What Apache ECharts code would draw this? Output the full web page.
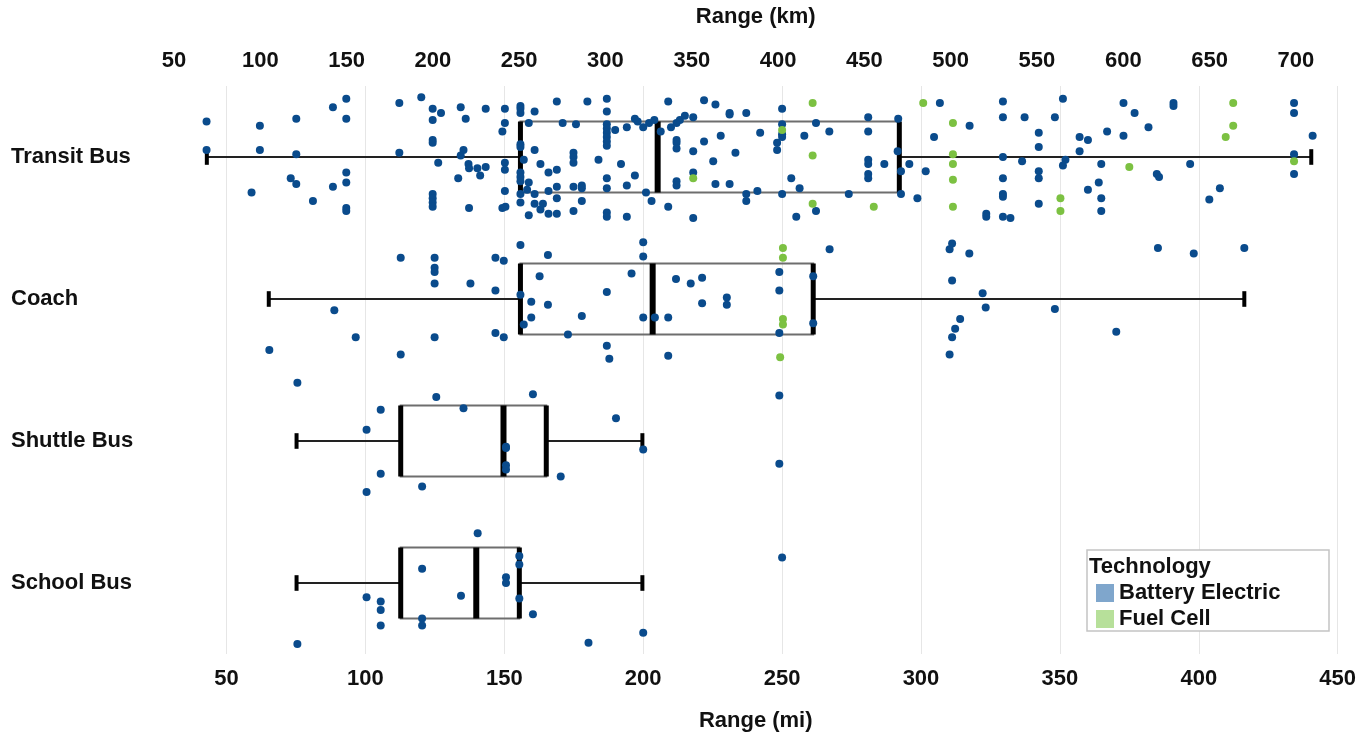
<!DOCTYPE html>
<html>
<head>
<meta charset="utf-8">
<script src="https://cdn.jsdelivr.net/npm/echarts@6/dist/echarts.min.js"></script>
<style>
html, body { margin: 0; padding: 0; background: #fff; }
#main { width: 1359px; height: 740px; }
</style>
</head>
<body>
<div id="main"></div>
<script>
// categories, top to bottom
var categories = ['Transit Bus', 'Coach', 'Shuttle Bus', 'School Bus'];
var miTicks = [50, 100, 150, 200, 250, 300, 350, 400, 450];
var kmTicks = [50, 100, 150, 200, 250, 300, 350, 400, 450, 500, 550, 600, 650, 700];
var KM_PER_MI = 1.609344;
var axisMin = 30, axisMax = 451;

// box stats (mi)
var boxMin = [42.9, 65.2, 75.2, 75.2];
var boxQ1  = [155.8, 155.8, 112.7, 112.7];
var boxMed = [205.2, 203.4, 149.7, 139.9];
var boxQ3  = [292.2, 261.2, 165.1, 155.4];
var boxMax = [440.5, 416.4, 199.7, 199.7];

// points: [range mi, jitter within the row]
var transitBev = [
  [42.8,-0.25],[42.8,-0.05],[62,-0.22],[62,-0.05],[59,0.25],[75.1,-0.27],[75.1,-0.02],[73.1,0.15],[75.1,0.19],[81.1,0.31],
  [88.3,-0.35],[93.1,-0.41],[93.1,-0.27],[93.1,0.11],[93.1,0.18],[88.3,0.21],[93.1,0.36],[93.1,0.38],[112.2,-0.38],[112.2,-0.03],
  [120.1,-0.42],[124.2,-0.34],[127.2,-0.31],[124.2,-0.26],[124.2,-0.12],[124.2,-0.10],[126.2,0.04],[124.2,0.26],[124.2,0.29],[124.2,0.32],
  [124.2,0.35],[134.3,-0.35],[136.1,-0.27],[135.3,-0.05],[134.3,-0.01],[137.1,0.05],[137.3,0.08],[140.3,0.08],[143.3,0.07],[141.3,0.13],
  [133.4,0.15],[137.3,0.36],[143.3,-0.34],[150.2,-0.34],[150.2,-0.24],[149.3,-0.18],[150.2,0.04],[150.2,0.09],[150.2,0.24],[149.3,0.36],
  [150.4,0.35],
  [155.8,-0.36],[155.8,-0.34],[155.8,-0.31],[155.8,-0.09],[155.8,-0.07],[155.8,0.11],[155.8,0.14],[155.8,0.17],[155.8,0.26],[155.8,0.32],
  [157.0,0.02],[158.8,-0.24],[160.9,-0.32],[160.9,-0.05],[158.8,0.18],[158.2,0.23],[160.9,0.26],[160.9,0.33],[158.8,0.41],[163.0,0.05],
  [163.0,0.37],[163.9,0.33],[165.9,0.11],[165.9,0.24],[165.9,0.40],[168.9,-0.39],[168.9,0.09],[168.9,0.21],[168.9,0.29],[168.9,0.40],
  [171.0,-0.24],[174.9,-0.03],[174.9,0.0],[174.9,0.04],[174.9,0.21],[174.9,0.38],[175.8,-0.23],[177.9,0.20],[177.9,0.22],[177.9,0.31],
  [179.9,-0.39],[183.9,0.02],[186.9,-0.41],[186.9,-0.32],[186.9,-0.23],[186.9,-0.20],[186.9,-0.17],[186.9,-0.14],[186.9,-0.11],[186.9,-0.08],
  [186.9,0.15],[186.9,0.22],[186.9,0.39],[186.9,0.42],[189.9,-0.19],[192.0,0.05],[194.1,-0.21],[194.1,0.20],[194.1,0.42],[197.0,-0.27],
  [198.0,-0.25],[197.0,0.13],[200.0,-0.21],[201.0,0.25],[202.1,-0.24],[203.0,0.31],[204.0,-0.26],[206.3,-0.18],[209.0,-0.39],[209.0,0.35],
  [210.0,-0.21],[212.0,-0.24],[213.2,-0.26],[212.0,-0.12],[212.0,-0.10],[212.0,-0.06],[212.0,0.17],[212.0,0.20],[215.0,-0.29],[218.0,-0.28],
  [218.0,-0.04],[218.0,0.11],[218.0,0.43],[221.9,-0.40],[221.9,-0.11],[225.2,0.03],[226.0,-0.37],[226.0,0.19],[227.9,-0.15],[231.1,-0.31],
  [231.1,-0.30],[231.1,0.19],[233.2,-0.03],[237.1,-0.31],[237.1,0.26],[237.1,0.31],[241.1,0.24],[242.1,-0.17],[248.2,-0.10],[248.2,-0.05],
  [250.0,-0.34],[250.0,-0.23],[250.0,-0.16],[250.0,-0.14],[250.0,0.26],[253.3,0.15],[255.1,0.42],[256.3,0.22],[258.0,-0.15],[262.2,-0.24],
  [262.2,0.38],
  [267.0,-0.18],[274.0,0.26],[281.0,-0.28],[281.0,-0.18],[281.0,0.02],[281.0,0.05],[281.0,0.12],[281.0,0.15],[286.8,0.05],[291.8,-0.27],
  [291.6,-0.04],[292.8,0.10],[292.8,0.26],[295.8,0.05],[298.7,0.29],[301.7,0.10],[304.7,-0.14],[306.8,-0.38],[317.5,-0.22],[323.5,0.40],
  [323.5,0.42],[329.5,-0.39],[329.5,-0.28],[329.5,0.00],[329.5,0.15],[329.5,0.26],[329.5,0.28],[329.5,0.42],[332.2,0.43],[336.4,0.03],
  [337.3,-0.28],[342.4,-0.17],[342.4,-0.07],[342.4,0.10],[342.4,0.15],[342.4,0.33],[348.2,-0.28],[351.1,-0.41],[352.0,0.02],[351.1,0.06],
  [357.1,-0.14],[357.1,-0.04],[360.1,-0.12],[360.1,0.23],[364.0,0.18],[364.9,0.05],[364.9,0.29],[364.9,0.38],[367.0,-0.18],[372.9,-0.38],
  [372.9,-0.15],[376.9,-0.31],[381.9,-0.21],[384.9,0.12],[385.7,0.14],[390.9,-0.38],[390.9,-0.36],[396.9,0.05],[403.8,0.30],[407.6,0.22],
  [434.3,-0.38],[434.3,-0.31],[434.3,-0.02],[434.3,0.12],[441.0,-0.15]
];
var transitFc = [
  [218.0,0.15],[250.0,-0.19],[261.0,-0.38],[261.0,-0.01],[261.0,0.33],[283.0,0.35],[300.8,-0.38],[311.5,-0.24],[311.5,-0.02],[311.5,0.05],
  [311.5,0.16],[311.5,0.35],[350.2,0.29],[350.2,0.38],[375.0,0.07],[409.7,-0.14],[412.4,-0.38],[412.4,-0.22],[434.3,0.03]
];
var coachBev = [
  [65.4,0.36],[88.8,0.08],[96.5,0.27],[112.7,-0.29],[112.7,0.39],[124.9,-0.29],[124.9,-0.22],[124.9,-0.19],[124.9,-0.11],[124.9,0.27],
  [137.8,-0.11],[146.8,-0.29],[149.8,-0.27],[146.8,-0.06],[146.8,0.24],[149.8,0.27],[155.8,-0.38],[155.8,-0.03],[157.0,0.18],[159.7,0.02],
  [159.7,0.13],[162.7,-0.16],[165.7,-0.31],[165.7,0.04],[172.9,0.25],[177.9,0.12],[186.9,-0.05],[186.9,0.33],[187.8,0.42],[195.8,-0.18],
  [200.0,-0.40],[200.0,-0.30],[200.0,0.13],[204.2,0.13],[209.0,0.13],[209.0,0.40],[211.8,-0.14],[217.1,-0.11],[221.2,-0.15],[221.2,0.03],
  [230.1,-0.01],[230.1,0.04],[249.0,-0.19],[249.0,-0.06],[249.0,0.24],[261.2,-0.16],[261.2,0.17],[267.1,-0.35],[310.3,-0.35],[311.2,-0.39],
  [317.4,-0.32],[311.2,-0.13],[322.2,-0.04],[323.3,0.06],[314.1,0.14],[312.3,0.21],[311.2,0.27],[310.3,0.39],[348.2,0.07],[370.3,0.23],
  [385.3,-0.36],[398.2,-0.32],[416.4,-0.36]
];
var coachFc = [[250.3,-0.36],[250.3,-0.29],[250.3,0.14],[250.3,0.18],[249.3,0.41]];
var shuttleBev = [
  [75.5,-0.41],[105.5,-0.22],[100.4,-0.08],[105.5,0.23],[100.4,0.36],[120.4,0.32],[125.5,-0.31],[135.3,-0.23],[160.3,-0.33],[150.6,0.04],
  [150.6,0.05],[150.6,0.17],[150.6,0.20],[170.3,0.25],[190.2,-0.16],[200.0,0.06],[249.0,-0.32],[249.0,0.16]
];
var schoolBev = [
  [140.4,-0.35],[120.4,-0.10],[100.4,0.10],[105.5,0.13],[105.5,0.19],[105.5,0.30],[120.4,0.25],[120.4,0.30],[134.4,0.09],[150.6,-0.04],
  [150.6,0.00],[155.4,-0.19],[155.4,-0.13],[155.4,0.11],[160.3,0.22],[180.3,0.42],[200.0,0.35],[75.5,0.43],[250.0,-0.18]
];

var FONT = "'Liberation Sans', Arial, sans-serif";
var BLUE = '#0a4b8c';
var GREEN = '#7cc142';

function placeRow(list, row) {
  return list.map(function (p) { return [p[0], row + p[1]]; });
}

var bevData = [].concat(placeRow(transitBev, 0), placeRow(coachBev, 1), placeRow(shuttleBev, 2), placeRow(schoolBev, 3));
var fcData = [].concat(placeRow(transitFc, 0), placeRow(coachFc, 1));

var boxData = categories.map(function (c, i) {
  return [i, boxMin[i], boxQ1[i], boxMed[i], boxQ3[i], boxMax[i]];
});

// draws one box with whiskers
function renderBox(params, api) {
  var c = api.value(0);
  var lo = api.value(1), q1 = api.value(2), med = api.value(3), q3 = api.value(4), hi = api.value(5);
  var half = 0.25, cap = 0.055;
  var p = function (x, y) { return api.coord([x, y]); };
  var a = p(q1, c - half), b = p(q3, c + half);
  var yTop = Math.min(a[1], b[1]), yBot = Math.max(a[1], b[1]);
  var mid = p(lo, c)[1];
  var capA = p(lo, c - cap), capB = p(lo, c + cap);
  var capTop = Math.min(capA[1], capB[1]), capBot = Math.max(capA[1], capB[1]);
  function vline(x, y1, y2, w, color) {
    return { type: 'line', shape: { x1: x, y1: y1, x2: x, y2: y2 }, style: { stroke: color, lineWidth: w } };
  }
  return {
    type: 'group',
    children: [
      { type: 'line', shape: { x1: p(lo, c)[0], y1: mid, x2: p(q1, c)[0], y2: mid }, style: { stroke: '#222', lineWidth: 2 } },
      { type: 'line', shape: { x1: p(q3, c)[0], y1: mid, x2: p(hi, c)[0], y2: mid }, style: { stroke: '#222', lineWidth: 2 } },
      { type: 'rect', shape: { x: a[0], y: yTop, width: b[0] - a[0], height: yBot - yTop }, style: { fill: 'none', stroke: '#6e6e6e', lineWidth: 2 } },
      vline(p(lo, c)[0], capTop, capBot, 4, '#000'),
      vline(p(hi, c)[0], capTop, capBot, 4, '#000'),
      vline(p(q1, c)[0], yTop, yBot, 5, '#000'),
      vline(p(med, c)[0], yTop, yBot, 6, '#000'),
      vline(p(q3, c)[0], yTop, yBot, 5, '#000')
    ]
  };
}

var chart = echarts.init(document.getElementById('main'));
var option = {
  backgroundColor: '#fff',
  animation: false,
  textStyle: { fontFamily: FONT },
  grid: { left: 171, right: 12, top: 86, bottom: 86, containLabel: false },
  xAxis: [
    {
      type: 'value', position: 'bottom', min: axisMin, max: axisMax,
      name: 'Range (mi)', nameLocation: 'middle', nameGap: 56,
      nameTextStyle: { fontFamily: FONT, fontWeight: 'bold', fontSize: 22, color: '#111' },
      axisLine: { show: false },
      axisTick: { show: false, customValues: miTicks },
      axisLabel: { customValues: miTicks, margin: 14, fontFamily: FONT, fontWeight: 'bold', fontSize: 22, color: '#111' },
      splitLine: { show: true, lineStyle: { color: '#e6e6e6', width: 1 } }
    },
    {
      type: 'value', position: 'top', min: axisMin * KM_PER_MI, max: axisMax * KM_PER_MI,
      name: 'Range (km)', nameLocation: 'middle', nameGap: 58,
      nameTextStyle: { fontFamily: FONT, fontWeight: 'bold', fontSize: 22, color: '#111' },
      axisLine: { show: false },
      axisTick: { show: false, customValues: kmTicks },
      axisLabel: { customValues: kmTicks, margin: 14, fontFamily: FONT, fontWeight: 'bold', fontSize: 22, color: '#111' },
      splitLine: { show: false }
    }
  ],
  yAxis: [
    {
      type: 'category', data: categories, inverse: true,
      axisLine: { show: false }, axisTick: { show: false },
      axisLabel: { align: 'left', margin: 160, fontFamily: FONT, fontWeight: 'bold', fontSize: 22, color: '#111' },
      splitLine: { show: false }
    },
    { type: 'value', min: -0.5, max: 3.5, inverse: true, show: false }
  ],
  legend: {
    left: 1091, top: 577, orient: 'vertical', itemGap: 4, itemWidth: 18, itemHeight: 18,
    icon: 'rect', z: 60,
    textStyle: { fontFamily: FONT, fontWeight: 'bold', fontSize: 22, color: '#111' },
    data: [
      { name: 'Battery Electric', itemStyle: { color: '#7fa6cc' } },
      { name: 'Fuel Cell', itemStyle: { color: '#b7e09a' } }
    ]
  },
  graphic: [
    { type: 'rect', z: 50, shape: { x: 1087, y: 550, width: 242, height: 81 }, style: { fill: '#fff', stroke: '#c4c4c4', lineWidth: 1.5 } },
    { type: 'text', z: 51, x: 1089, y: 556, style: { text: 'Technology', font: 'bold 22px ' + FONT, fill: '#111' } }
  ],
  series: [
    {
      type: 'custom', name: 'boxes', xAxisIndex: 0, yAxisIndex: 1, z: 2,
      renderItem: renderBox, data: boxData,
      encode: { x: [1, 2, 3, 4, 5], y: 0 }, silent: true
    },
    {
      type: 'scatter', name: 'Battery Electric', xAxisIndex: 0, yAxisIndex: 1, z: 3,
      symbolSize: 8, itemStyle: { color: BLUE, opacity: 1 }, data: bevData
    },
    {
      type: 'scatter', name: 'Fuel Cell', xAxisIndex: 0, yAxisIndex: 1, z: 4,
      symbolSize: 8, itemStyle: { color: GREEN, opacity: 1 }, data: fcData
    }
  ]
};
chart.setOption(option);
</script>
</body>
</html>
